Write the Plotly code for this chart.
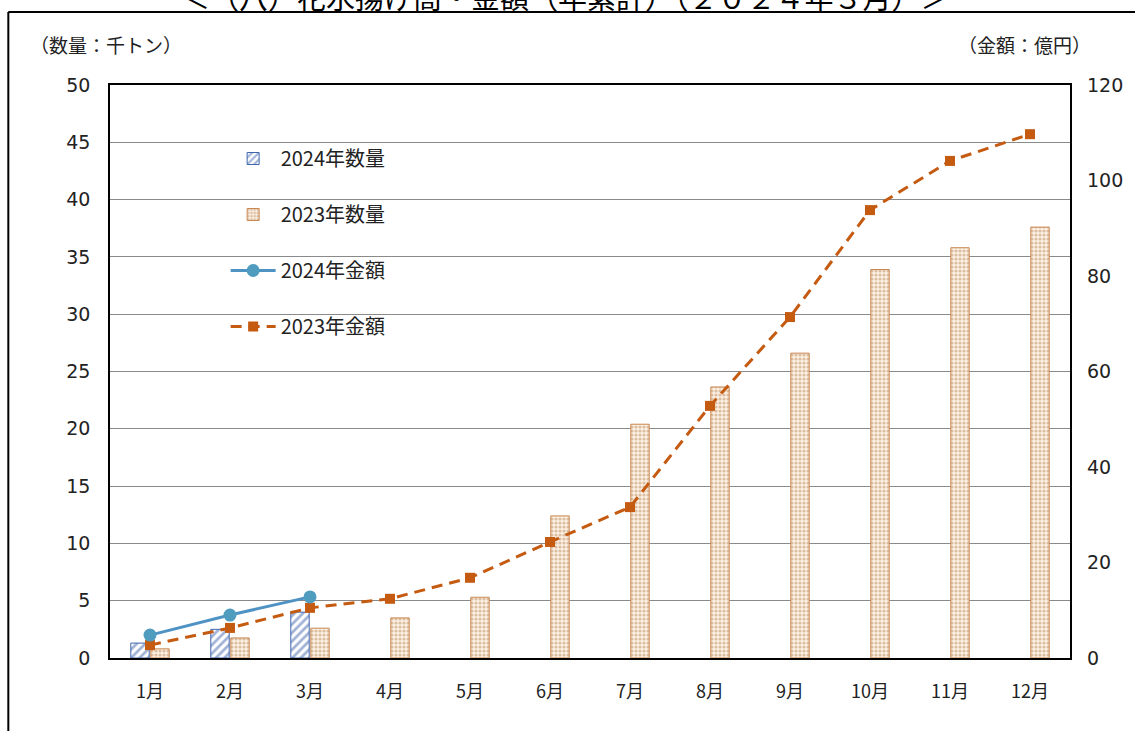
import plotly.graph_objects as go

months = ["1月", "2月", "3月", "4月", "5月", "6月", "7月", "8月", "9月", "10月", "11月", "12月"]
qty_2024 = [1.3, 2.5, 4.0, None, None, None, None, None, None, None, None, None]
qty_2023 = [0.8, 1.75, 2.6, 3.5, 5.3, 12.4, 20.4, 23.65, 26.6, 33.9, 35.8, 37.6]
amt_2024 = [4.8, 9.0, 12.8, None, None, None, None, None, None, None, None, None]
amt_2023 = [2.7, 6.3, 10.5, 12.4, 16.8, 24.3, 31.6, 52.8, 71.4, 93.8, 104.1, 109.7]
left_ticks = list(range(0, 51, 5))
right_ticks = list(range(0, 121, 20))

W, H = 1135, 731
L, R, T, B = 110, 62, 85, 73
PW, PH = W - L - R, H - T - B


def px(x):
    return (x - L) / PW


def py(y):
    return (H - B - y) / PH


JP = "Noto Sans CJK JP"
NUM = "DejaVu Sans"

fig = go.Figure()

fig.add_trace(go.Bar(
    x=months, y=qty_2024, name="2024年数量", legendrank=1, legendgroup="a",
    marker=dict(color="white", line=dict(color="#3f66ad", width=1),
                pattern=dict(shape="/", fgcolor="#3f66ad", bgcolor="white", size=6, solidity=0.45)),
))
fig.add_trace(go.Bar(
    x=months, y=qty_2023, name="2023年数量", legendrank=2, legendgroup="b",
    marker=dict(color="#fbeee0", line=dict(color="#c8874f", width=1),
                pattern=dict(shape=".", fgcolor="#b98a5e", bgcolor="#fcf1e4", size=4, solidity=0.5)),
))
fig.add_trace(go.Scatter(
    x=months, y=amt_2023, name="2023年金額", yaxis="y2", legendrank=4, legendgroup="d",
    mode="lines+markers",
    line=dict(color="#c55a11", width=3, dash="11px,7px"),
    marker=dict(symbol="square", size=10, color="#c55a11"),
))
fig.add_trace(go.Scatter(
    x=months, y=amt_2024, name="2024年金額", yaxis="y2", legendrank=3, legendgroup="c",
    mode="lines+markers",
    line=dict(color="#4f93c4", width=3),
    marker=dict(symbol="circle", size=13, color="#4f9cbf"),
))

shapes = [
    # white box behind legend (interrupts gridlines)
    dict(type="rect", xref="paper", yref="paper", x0=px(175), x1=px(432), y0=py(345), y1=py(130),
         fillcolor="white", line=dict(width=0), layer="between"),
    # outer chart frame
    dict(type="line", xref="paper", yref="paper", x0=px(8), x1=px(1140), y0=py(12), y1=py(12),
         line=dict(color="black", width=2)),
    dict(type="line", xref="paper", yref="paper", x0=px(8), x1=px(8), y0=py(12), y1=py(740),
         line=dict(color="black", width=2)),
]

annotations = [
    dict(text="＜（八）花水揚げ高・金額（年累計）（２０２４年３月）＞", xref="paper", yref="paper",
         x=px(567), y=py(19), xanchor="center", yanchor="bottom", showarrow=False,
         font=dict(family=JP, size=29, color="black")),
    dict(text="（数量：千トン）", xref="paper", yref="paper", x=px(28), y=py(44),
         xanchor="left", yanchor="middle", showarrow=False,
         font=dict(family=JP, size=19, color="#222")),
    dict(text="（金額：億円）", xref="paper", yref="paper", x=px(1096), y=py(44),
         xanchor="right", yanchor="middle", showarrow=False,
         font=dict(family=JP, size=19, color="#222")),
]

fig.update_layout(
    width=W, height=H,
    margin=dict(l=L, r=R, t=T, b=B, pad=0),
    paper_bgcolor="white", plot_bgcolor="white",
    barmode="group", bargap=0.5, bargroupgap=0.08,
    showlegend=True,
    legend=dict(x=px(226), y=py(139), xanchor="left", yanchor="top",
                bgcolor="rgba(0,0,0,0)", font=dict(family=JP, size=20, color="#222"),
                tracegroupgap=27, itemwidth=45, traceorder="grouped"),
    xaxis=dict(range=[-0.5, 11.5], showgrid=False, showline=True, linecolor="black", linewidth=1.5,
               mirror=True, ticks="", tickfont=dict(family=JP, size=18, color="#222"),
               ticklabelstandoff=17),
    yaxis=dict(range=[0, 50], tickvals=left_ticks, showgrid=True, gridcolor="#8a8a8a", gridwidth=1,
               showline=True, linecolor="black", linewidth=1.5, mirror=True, ticks="",
               tickfont=dict(family=NUM, size=19, color="#222"), ticklabelstandoff=14, zeroline=False),
    yaxis2=dict(range=[0, 120], tickvals=right_ticks, overlaying="y", side="right", showgrid=False,
                showline=False, ticks="", tickfont=dict(family=NUM, size=19, color="#222"),
                ticklabelstandoff=16, zeroline=False),
    shapes=shapes, annotations=annotations,
)

fig.write_html("out.html")
